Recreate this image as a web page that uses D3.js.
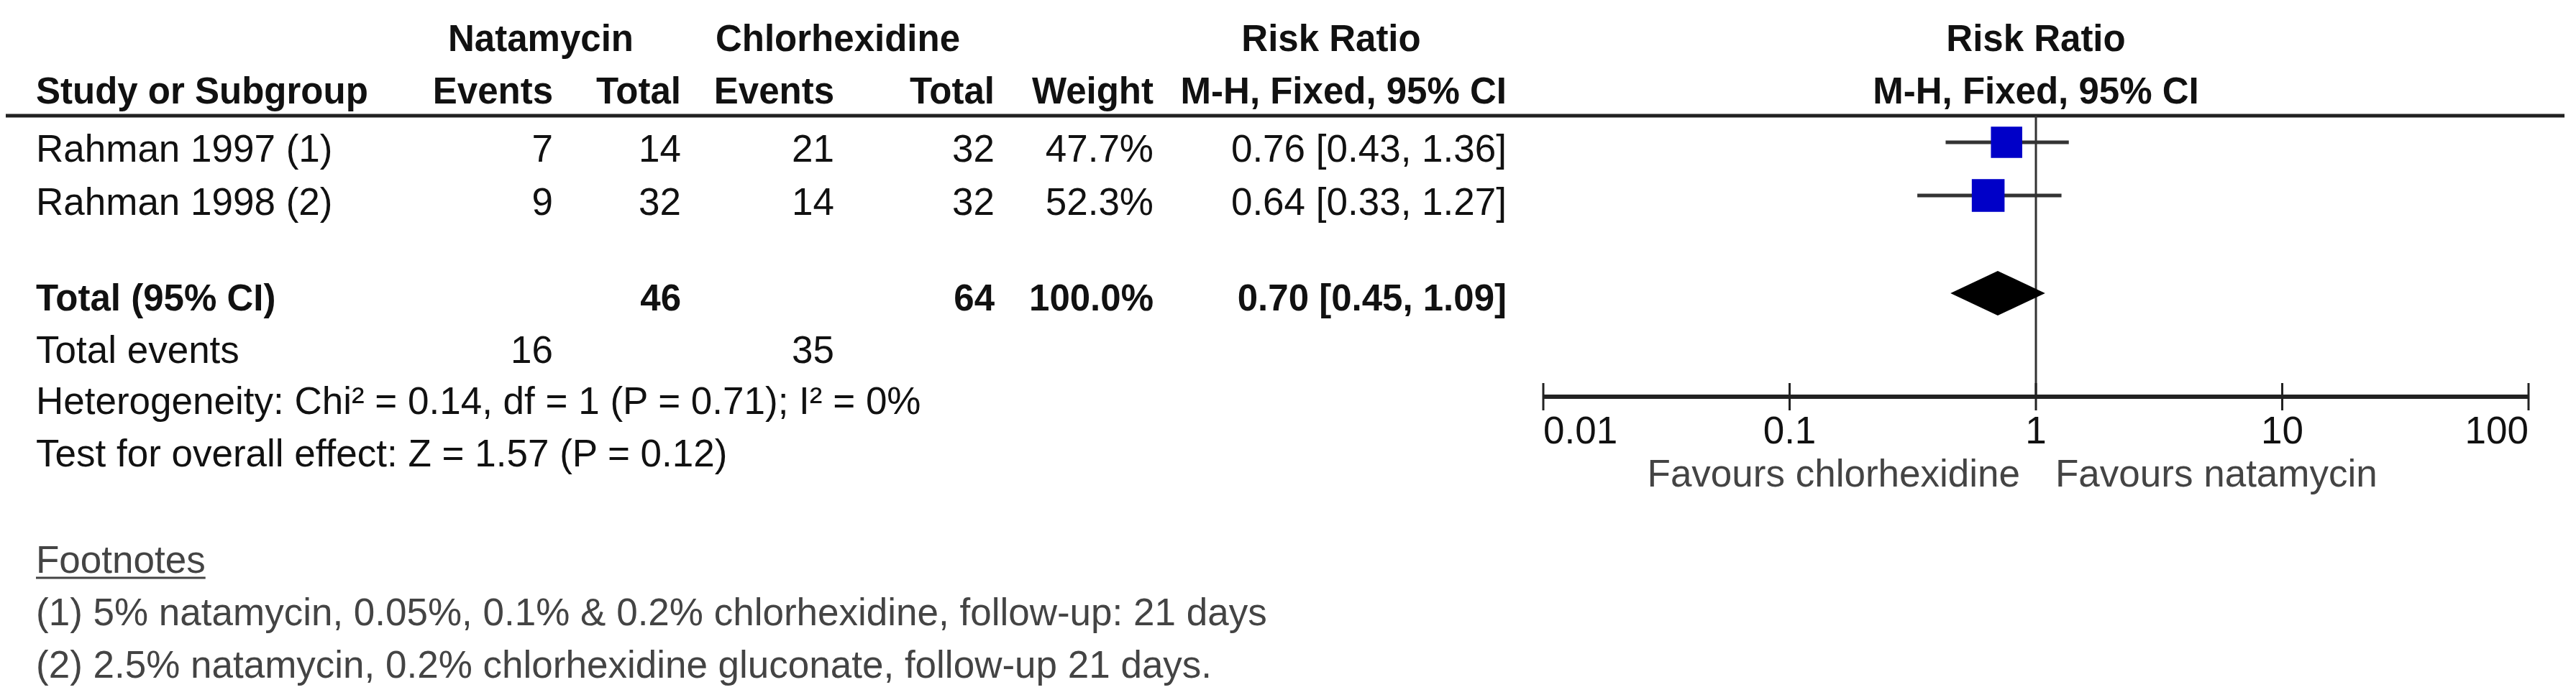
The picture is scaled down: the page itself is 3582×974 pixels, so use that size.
<!DOCTYPE html>
<html>
<head>
<meta charset="utf-8">
<script src="https://cdn.jsdelivr.net/npm/d3@7"></script>
<style>
  body { margin: 0; background: #fff; }
  svg { display: block; }
  text { font-family: "Liberation Sans", Arial, sans-serif; }
</style>
</head>
<body>
<svg id="sv"></svg>
<script>
// study rows
const studies = ["Rahman 1997 (1)", "Rahman 1998 (2)"];
const natEvents = [7, 9];
const natTotal = [14, 32];
const chxEvents = [21, 14];
const chxTotal = [32, 32];
const weights = [47.7, 52.3];
const rr = [0.76, 0.64];
const rrLo = [0.43, 0.33];
const rrHi = [1.36, 1.27];
// pooled
const pooled = [0.70, 0.45, 1.09];
const pooledTotals = [46, 64];
const totalEvents = [16, 35];
const statLines = ["Heterogeneity: Chi\u00b2 = 0.14, df = 1 (P = 0.71); I\u00b2 = 0%", "Test for overall effect: Z = 1.57 (P = 0.12)"];
const footnotes = ["(1) 5% natamycin, 0.05%, 0.1% & 0.2% chlorhexidine, follow-up: 21 days", "(2) 2.5% natamycin, 0.2% chlorhexidine gluconate, follow-up 21 days."];
const ticks = [0.01, 0.1, 1, 10, 100];
const favours = ["Favours chlorhexidine", "Favours natamycin"];

const W = 3582, H = 974, FS = 53, FB = 51;
const svg = d3.select("#sv").attr("width", W).attr("height", H);
svg.append("rect").attr("width", W).attr("height", H).attr("fill", "#fff");

const xL = 50;
const col = { ne: 769, nt: 947, ce: 1160, ct: 1383, w: 1604, rr: 2095 };
const rowY = [225, 299], totY = 432, evY = 505, statY = [576, 649], fnHeadY = 797, fnY = [870, 943];
const lineY = 161, axY = 552;
const x = d3.scaleLog().domain([0.01, 100]).range([2146, 3516]);
const fmt = d3.format(".2f");

function txt(g, xx, yy, s, anchor = "start", bold = false, fill = "#111") {
  return g.append("text").attr("x", xx).attr("y", yy).attr("text-anchor", anchor)
    .attr("font-size", bold ? FB : FS).attr("font-weight", bold ? 700 : 400).attr("fill", fill).text(s);
}

// headers
const hd = svg.append("g");
txt(hd, 752, 71, "Natamycin", "middle", true);
txt(hd, 1165, 71, "Chlorhexidine", "middle", true);
txt(hd, 1851, 71, "Risk Ratio", "middle", true);
txt(hd, x(1), 71, "Risk Ratio", "middle", true);
txt(hd, xL, 144, "Study or Subgroup", "start", true);
txt(hd, col.ne, 144, "Events", "end", true);
txt(hd, col.nt, 144, "Total", "end", true);
txt(hd, col.ce, 144, "Events", "end", true);
txt(hd, col.ct, 144, "Total", "end", true);
txt(hd, col.w, 144, "Weight", "end", true);
txt(hd, col.rr, 144, "M-H, Fixed, 95% CI", "end", true);
txt(hd, x(1), 144, "M-H, Fixed, 95% CI", "middle", true);
svg.append("line").attr("x1", 8).attr("x2", 3566).attr("y1", lineY).attr("y2", lineY)
  .attr("stroke", "#222").attr("stroke-width", 5);

// study rows
const rows = svg.append("g");
studies.forEach((s, i) => {
  const y = rowY[i];
  txt(rows, xL, y, s);
  txt(rows, col.ne, y, natEvents[i], "end");
  txt(rows, col.nt, y, natTotal[i], "end");
  txt(rows, col.ce, y, chxEvents[i], "end");
  txt(rows, col.ct, y, chxTotal[i], "end");
  txt(rows, col.w, y, weights[i].toFixed(1) + "%", "end");
  txt(rows, col.rr, y, `${fmt(rr[i])} [${fmt(rrLo[i])}, ${fmt(rrHi[i])}]`, "end");
});

// totals
txt(rows, xL, totY, "Total (95% CI)", "start", true);
txt(rows, col.nt, totY, pooledTotals[0], "end", true);
txt(rows, col.ct, totY, pooledTotals[1], "end", true);
txt(rows, col.w, totY, "100.0%", "end", true);
txt(rows, col.rr, totY, `${fmt(pooled[0])} [${fmt(pooled[1])}, ${fmt(pooled[2])}]`, "end", true);
txt(rows, xL, evY, "Total events");
txt(rows, col.ne, evY, totalEvents[0], "end");
txt(rows, col.ce, evY, totalEvents[1], "end");
statLines.forEach((s, i) => txt(rows, xL, statY[i], s));

// footnotes
const fh = txt(rows, xL, fnHeadY, "Footnotes", "start", false, "#444");
const fw = fh.node().getComputedTextLength();
rows.append("line").attr("x1", xL).attr("x2", xL + fw).attr("y1", fnHeadY + 7).attr("y2", fnHeadY + 7)
  .attr("stroke", "#444").attr("stroke-width", 3);
footnotes.forEach((s, i) => txt(rows, xL, fnY[i], s, "start", false, "#444"));

// forest plot
const fp = svg.append("g");
fp.append("line").attr("x1", x(1)).attr("x2", x(1)).attr("y1", lineY).attr("y2", axY)
  .attr("stroke", "#333").attr("stroke-width", 3);
studies.forEach((s, i) => {
  const cy = rowY[i] - 27;
  fp.append("line").attr("x1", x(rrLo[i])).attr("x2", x(rrHi[i])).attr("y1", cy).attr("y2", cy)
    .attr("stroke", "#333").attr("stroke-width", 5);
  const side = 6.3 * Math.sqrt(weights[i]);
  fp.append("rect").attr("x", x(rr[i]) - side / 2).attr("y", cy - side / 2)
    .attr("width", side).attr("height", side).attr("fill", "#0000c8");
});
const dy = totY - 24;
fp.append("path").attr("fill", "#000")
  .attr("d", `M${x(pooled[1])},${dy}L${x(pooled[0])},${dy - 31}L${x(pooled[2])},${dy}L${x(pooled[0])},${dy + 31}Z`);

// axis
const ax = svg.append("g");
ax.append("line").attr("x1", x(0.01)).attr("x2", x(100)).attr("y1", axY).attr("y2", axY)
  .attr("stroke", "#222").attr("stroke-width", 6);
ax.selectAll(".tk").data(ticks).enter().append("line").attr("class", "tk")
  .attr("x1", d => x(d)).attr("x2", d => x(d)).attr("y1", axY - 19).attr("y2", axY + 19)
  .attr("stroke", "#222").attr("stroke-width", 3);
ax.selectAll(".tl").data(ticks).enter().append("text").attr("class", "tl")
  .attr("x", d => x(d)).attr("y", 617).attr("font-size", FS).attr("fill", "#111")
  .attr("text-anchor", (d, i) => i === 0 ? "start" : i === ticks.length - 1 ? "end" : "middle")
  .text(d => d);
txt(ax, x(1) - 22, 677, favours[0], "end", false, "#444");
txt(ax, x(1) + 27, 677, favours[1], "start", false, "#444");
</script>
</body>
</html>
